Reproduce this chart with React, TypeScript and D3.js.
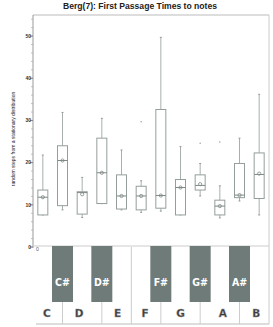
import React from "react";
import * as d3 from "d3";

const notes = ["C", "C#", "D", "D#", "E", "F", "F#", "G", "G#", "A", "A#", "B"];
const whiskerHi = [21.8, 31.9, 16.5, 30.5, 23.0, 15.7, 49.7, 23.8, 19.8, 14.5, 25.8, 36.2];
const q3 = [13.5, 24.0, 13.1, 25.8, 17.1, 14.4, 32.6, 16.0, 17.1, 11.1, 19.8, 22.3];
const medians = [11.8, 20.5, 12.9, 17.6, 12.1, 12.1, 12.2, 14.1, 14.6, 9.7, 12.3, 17.2];
const means = [11.8, 20.5, 12.5, 17.6, 12.1, 12.1, 12.2, 14.1, 14.9, 9.7, 12.3, 17.4];
const q1 = [7.6, 9.8, 7.8, 10.3, 9.0, 8.8, 9.2, 7.6, 13.5, 7.6, 11.7, 11.5];
const whiskerLo = [7.6, 8.8, 7.0, 10.3, 8.8, 8.2, 8.5, 7.6, 12.1, 6.9, 10.9, 7.6];
const outliers: [string, number][] = [["F", 29.7], ["G#", 24.6], ["A", 24.9]];
const yTicks = [0, 10, 20, 30, 40, 50];
const whiteKeys = ["C", "D", "E", "F", "G", "A", "B"];
const blackKeys = ["C#", "D#", "F#", "G#", "A#"];
const whiteLabelShift: Record<string, number> = { C: 4, D: -3, E: -4, F: 4, G: 0, A: 3, B: -3 };

const W = 273, H = 327;
const left = 33, right = 269, top = 15, bottom = 247;
const kbBottom = 324, blackBottom = 302;

export default function App() {
  const x = d3.scaleBand<string>().domain(notes).range([left, right]);
  const y = d3.scaleLinear().domain([0, 55]).range([bottom, top]);
  const cx = (n: string) => (x(n) as number) + x.bandwidth() / 2;
  const bw = 10;
  const minor = d3.range(0, 56, 2);
  const boxStroke = "#949e9d";
  const sepX = (a: string, b: string) => (cx(a) + cx(b)) / 2;
  const separators: number[] = [
    cx("C#"), cx("D#"), sepX("E", "F"), cx("F#"), cx("G#"), cx("A#"),
  ];
  return (
    <svg width={W} height={H} style={{ position: "absolute", left: 0, top: 0, background: "#fff" }}>
      <text x={140} y={9} textAnchor="middle" fontFamily="Liberation Sans, Arial, sans-serif" fontWeight="bold" fontSize={8.6} fill="#222">
        Berg(7): First Passage Times to notes
      </text>
      <line x1={left} x2={right} y1={top} y2={top} stroke="#bbb" strokeWidth={1} />
      <line x1={right} x2={right} y1={top} y2={kbBottom} stroke="#ccc" strokeWidth={1} />
      <line x1={left} x2={left} y1={top} y2={bottom + 1} stroke="#999" strokeWidth={1} />
      {minor.map((t) => (
        <line key={"m" + t} x1={left - 2} x2={left} y1={y(t)} y2={y(t)} stroke="#aaa" strokeWidth={0.7} />
      ))}
      {yTicks.map((t) => (
        <g key={t}>
          <line x1={left - 3} x2={left} y1={y(t)} y2={y(t)} stroke="#888" strokeWidth={1} />
          <text x={left - 2} y={y(t) + 1.8} textAnchor="end" fontFamily="Liberation Sans, Arial, sans-serif" fontWeight="bold" fontSize={5} fill="#333">
            {t}
          </text>
        </g>
      ))}
      <text transform={`translate(15,${(top + bottom) / 2 + 8}) rotate(-90)`} textAnchor="middle" fontFamily="Liberation Sans, Arial, sans-serif" fontSize={5} fill="#222">
        random steps from a stationary distribution
      </text>
      <text x={left + 3} y={bottom + 4} fontFamily="Liberation Sans, Arial, sans-serif" fontSize={5} fill="#555">0</text>
      {notes.map((n, i) => {
        const c = cx(n);
        return (
          <g key={n} fill="none">
            <line x1={c} x2={c} y1={y(whiskerHi[i])} y2={y(q3[i])} stroke="#a8b0af" strokeWidth={1} />
            <line x1={c} x2={c} y1={y(q1[i])} y2={y(whiskerLo[i])} stroke="#a8b0af" strokeWidth={1} />
            <line x1={c - 1} x2={c + 1} y1={y(whiskerHi[i])} y2={y(whiskerHi[i])} stroke="#999" strokeWidth={1} />
            <line x1={c - 1} x2={c + 1} y1={y(whiskerLo[i])} y2={y(whiskerLo[i])} stroke="#999" strokeWidth={1} />
            <rect x={c - bw / 2} y={y(q3[i])} width={bw} height={y(q1[i]) - y(q3[i])} stroke={boxStroke} strokeWidth={1} fill="#fff" />
            <line x1={c - bw / 2} x2={c + bw / 2} y1={y(medians[i])} y2={y(medians[i])} stroke="#7d8887" strokeWidth={1} />
            <circle cx={c} cy={y(means[i])} r={1.6} stroke="#7d8887" strokeWidth={0.8} fill="none" />
          </g>
        );
      })}
      {outliers.map(([n, v], i) => (
        <circle key={"o" + i} cx={cx(n)} cy={y(v)} r={0.7} fill="#999" />
      ))}
      <line x1={left} x2={right} y1={bottom - 1} y2={bottom - 1} stroke="#ccc" strokeWidth={1} />
      <line x1={36} x2={right} y1={kbBottom} y2={kbBottom} stroke="#bbb" strokeWidth={1} />
      {separators.map((sx, i) => (
        <line key={"s" + i} x1={sx} x2={sx} y1={i === 2 ? bottom : blackBottom} y2={kbBottom} stroke="#ccc" strokeWidth={1} />
      ))}
      {blackKeys.map((k) => (
        <g key={k}>
          <rect x={cx(k) - 10.5} y={bottom - 1} width={21} height={blackBottom - bottom + 1} fill="#6f7b79" />
          <text x={cx(k)} y={286} textAnchor="middle" fontFamily="DejaVu Sans Condensed, DejaVu Sans, sans-serif" fontWeight="bold" fontSize={10.5} fill="#fff">
            {k}
          </text>
        </g>
      ))}
      {whiteKeys.map((k) => (
        <text key={k} x={cx(k) + whiteLabelShift[k]} y={317} textAnchor="middle" fontFamily="DejaVu Sans, sans-serif" fontWeight="bold" fontSize={10.5} fill="#3a3a3a" stroke="#999" strokeWidth={0.4}>
          {k}
        </text>
      ))}
    </svg>
  );
}
